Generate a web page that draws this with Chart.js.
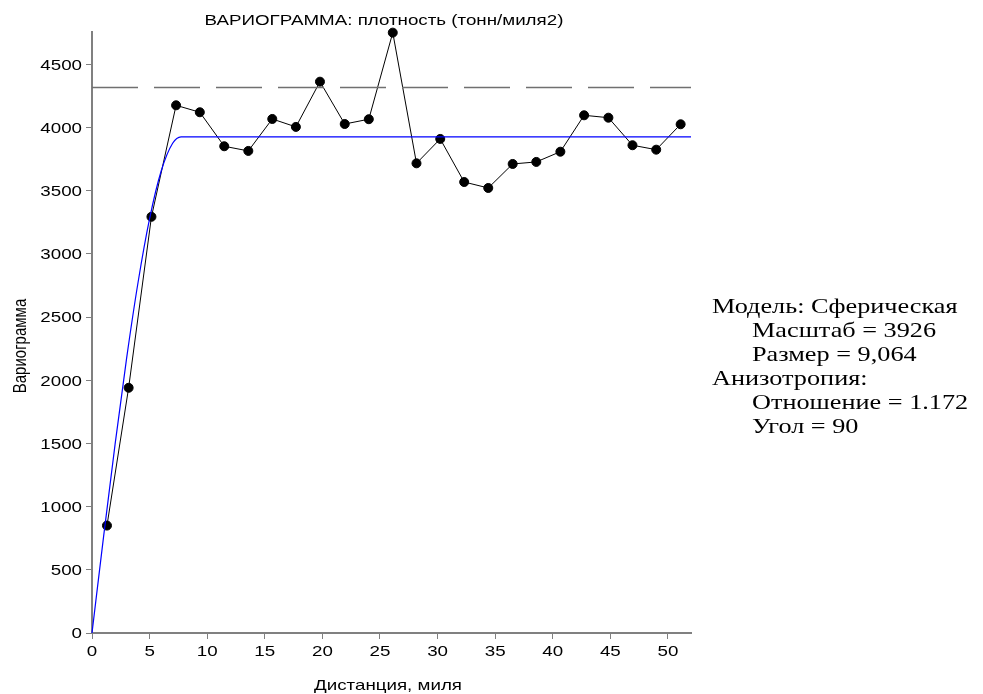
<!DOCTYPE html>
<html>
<head>
<meta charset="utf-8">
<script src="https://cdn.jsdelivr.net/npm/chart.js@4.4.1/dist/chart.umd.min.js"></script>
<style>
  body { margin: 0; background: #fff; }
  #wrap { position: relative; width: 983px; height: 694px; }
  #model {
    position: absolute; left: 712px; top: 294px;
    font-family: "Liberation Serif", "Times New Roman", serif;
    font-size: 21px; line-height: 24px; color: #000;
    transform: scaleX(1.25); transform-origin: left top;
    white-space: nowrap;
  }
  #model .ind { padding-left: 32px; }
</style>
</head>
<body>
<div id="wrap">
  <canvas id="chart" width="983" height="694"></canvas>
  <div id="model">
    <div>Модель: Сферическая</div>
    <div class="ind">Масштаб = 3926</div>
    <div class="ind">Размер = 9,064</div>
    <div>Анизотропия:</div>
    <div class="ind">Отношение = 1.172</div>
    <div class="ind">Угол = 90</div>
  </div>
</div>
<script>
// experimental variogram
const lagDist = [1.30, 3.18, 5.16, 7.30, 9.36, 11.48, 13.57, 15.65, 17.70, 19.79, 21.94, 24.03, 26.11,
                 28.17, 30.23, 32.31, 34.40, 36.52, 38.57, 40.66, 42.72, 44.83, 46.92, 48.98, 51.10];
const gammaVals = [850, 1940, 3293, 4175, 4120, 3851, 3814, 4067, 4004, 4362, 4027, 4065, 4750,
                   3716, 3909, 3568, 3521, 3711, 3727, 3808, 4096, 4077, 3859, 3824, 4025];

// fitted model curve (blue)
const modelDist = [0, 1, 2, 3, 4, 5, 6, 7, 7.73, 52];
const modelVals = [0, 758, 1490, 2171, 2775, 3278, 3653, 3875, 3926, 3926];

// sample variance (dashed)
const sillDist = [0, 52];
const sillVals = [4315, 4315];

// axes
const xTickVals = [0, 5, 10, 15, 20, 25, 30, 35, 40, 45, 50];
const yTickVals = [0, 500, 1000, 1500, 2000, 2500, 3000, 3500, 4000, 4500];
const xMax = 52;
const yMax = 4755;

const title = "ВАРИОГРАММА: плотность (тонн/миля2)";
const xTitle = "Дистанция, миля";
const yTitle = "Вариограмма";

const STRETCH = 1.25;
const FONT = '15px "Liberation Sans", Arial, sans-serif';

function pts(xs, ys) {
    return xs.map((x, i) => ({ x: x, y: ys[i] }));
}

function stretchedText(ctx, text, x, y, align, rot) {
    ctx.save();
    ctx.translate(x, y);
    ctx.scale(STRETCH, 1);
    if (rot) ctx.rotate(rot);
    ctx.textAlign = align;
    ctx.fillText(text, 0, 0);
    ctx.restore();
}

// draws titles and tick labels with the wide look of the original
const textPlugin = {
    id: 'texts',
    afterDraw(chart) {
        const ctx = chart.ctx;
        ctx.save();
        ctx.font = FONT;
        ctx.fillStyle = '#000';
        ctx.textBaseline = 'alphabetic';

        const xs = chart.scales.x;
        const ys = chart.scales.y;

        ys.ticks.forEach(t => {
            const py = ys.getPixelForValue(t.value);
            stretchedText(ctx, String(t.value), 82, py + 5.4, 'right');
        });
        xs.ticks.forEach(t => {
            const px = xs.getPixelForValue(t.value);
            stretchedText(ctx, String(t.value), px, 656, 'center');
        });

        stretchedText(ctx, title, 384, 25, 'center');
        stretchedText(ctx, xTitle, 388, 690, 'center');
        stretchedText(ctx, yTitle, 26, 346, 'center', -Math.PI / 2);
        ctx.restore();
    }
};

const ctx = document.getElementById('chart').getContext('2d');
const chart = new Chart(ctx, {
    type: 'scatter',
    data: {
        datasets: [
            {
                label: 'sill',
                data: pts(sillDist, sillVals),
                showLine: true,
                borderColor: '#707070',
                borderWidth: 1.5,
                borderDash: [46, 16],
                pointRadius: 0,
                clip: false
            },
            {
                label: 'model',
                data: pts(modelDist, modelVals),
                showLine: true,
                borderColor: '#0000ff',
                borderWidth: 1.2,
                cubicInterpolationMode: 'monotone',
                pointRadius: 0,
                clip: false
            },
            {
                label: 'experimental',
                data: pts(lagDist, gammaVals),
                showLine: true,
                borderColor: '#000',
                borderWidth: 1,
                backgroundColor: '#000',
                pointBackgroundColor: '#000',
                pointBorderColor: '#000',
                pointRadius: 4.5,
                clip: false
            }
        ]
    },
    options: {
        responsive: false,
        animation: false,
        layout: { padding: { left: 0, right: 292, top: 32, bottom: 0 } },
        plugins: {
            legend: { display: false },
            tooltip: { enabled: false },
            title: { display: false }
        },
        scales: {
            x: {
                type: 'linear',
                min: 0,
                max: xMax,
                afterFit: s => { s.height = 61; },
                afterBuildTicks: s => { s.ticks = xTickVals.map(v => ({ value: v })); },
                ticks: { display: false },
                grid: { display: true, drawOnChartArea: false, drawTicks: true, tickLength: 6, color: '#808080', lineWidth: 1 },
                border: { display: true, color: '#808080', width: 2 }
            },
            y: {
                type: 'linear',
                min: 0,
                max: yMax,
                afterFit: s => { s.width = 92; },
                afterBuildTicks: s => { s.ticks = yTickVals.map(v => ({ value: v })); },
                ticks: { display: false },
                grid: { display: true, drawOnChartArea: false, drawTicks: true, tickLength: 6, color: '#808080', lineWidth: 1 },
                border: { display: true, color: '#808080', width: 2 }
            }
        }
    },
    plugins: [textPlugin]
});
</script>
</body>
</html>
